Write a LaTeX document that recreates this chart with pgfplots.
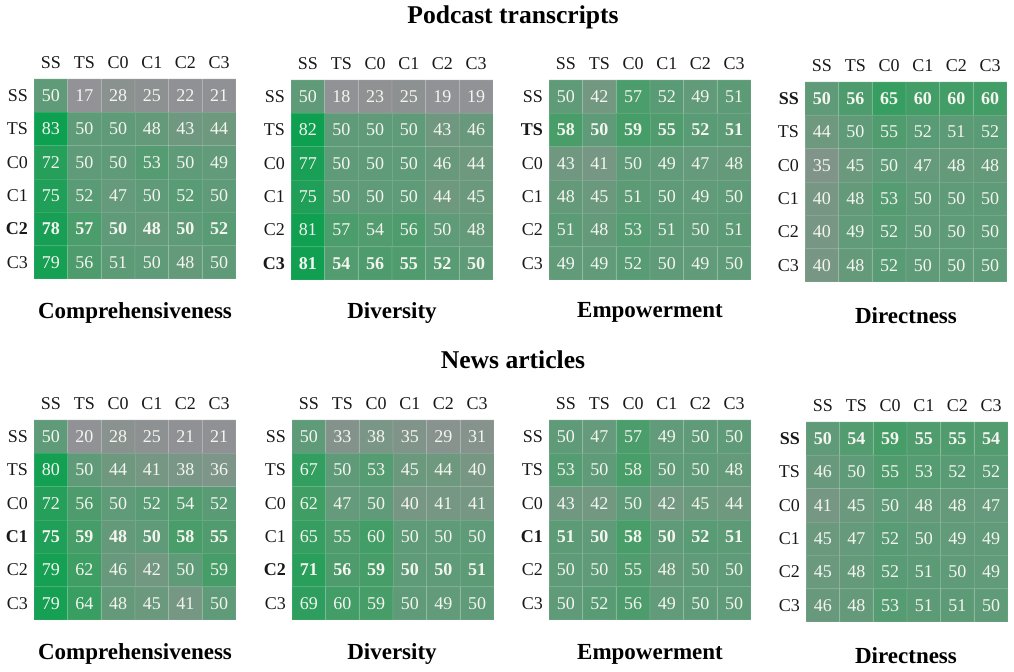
\documentclass[border=0pt]{standalone}
\usepackage{fontspec}
\setmainfont{Liberation Serif}
\usepackage{pgfplots}
\pgfplotsset{compat=1.18}
\definecolor{celltext}{RGB}{245,245,240}
\pgfplotsset{
  colormap={heat}{rgb255(17pt)=(146,146,151) rgb255(25pt)=(142,145,146)
    rgb255(35pt)=(128,148,138) rgb255(42pt)=(115,152,130) rgb255(50pt)=(95,155,120)
    rgb255(58pt)=(72,157,105) rgb255(65pt)=(55,158,97) rgb255(83pt)=(12,160,80)},
  hm/.style={
    scale only axis, width=101pt, height=100pt, anchor=north west,
    xmin=-0.5, xmax=5.5, ymin=-0.5, ymax=5.5,
    xtick={0,...,5}, ytick={0,...,5},
    xticklabels={SS,TS,C0,C1,C2,C3},
    xticklabel pos=upper,
    major tick length=0pt, tick style={draw=none},
    axis line style={draw=none},
    tick label style={font=\fontsize{9}{10}\selectfont, text=black!90},
    xticklabel style={yshift=1.5pt},
    yticklabel style={xshift=0.5pt},
    colormap name=heat, point meta min=17, point meta max=83,
    /pgf/number format/assume math mode=true,
    nodes near coords={\fontsize{9}{10}\selectfont\pgfmathprintnumber[fixed,precision=0]{\pgfplotspointmeta}},
    every node near coord/.append style={text=celltext, anchor=center},
  },
  cells/.style={matrix plot*, mesh/cols=6, point meta=explicit,
    draw=white, draw opacity=0.12, line width=0.4pt},
  boldrow/.style={coordinate style/.condition={y==#1}{font=\bfseries}},
}
\newcommand\subt[1]{\fontsize{11.5}{13}\selectfont\bfseries #1}
\begin{document}
\begin{tikzpicture}
\useasboundingbox (0,0) rectangle (507pt,-336pt);
\node[font=\fontsize{12.8}{14}\selectfont\bfseries] at (256.5pt,-8.5pt) {Podcast transcripts};
\node[font=\fontsize{12.8}{14}\selectfont\bfseries] at (256.5pt,-180pt) {News articles};

% ---------------- Podcast transcripts ----------------
\begin{axis}[hm, at={(17pt,-39.5pt)}, yticklabels={C3,\textbf{C2},C1,C0,TS,SS}]
\addplot[cells, boldrow=1] coordinates {
(0,5)[50] (1,5)[17] (2,5)[28] (3,5)[25] (4,5)[22] (5,5)[21]
(0,4)[83] (1,4)[50] (2,4)[50] (3,4)[48] (4,4)[43] (5,4)[44]
(0,3)[72] (1,3)[50] (2,3)[50] (3,3)[53] (4,3)[50] (5,3)[49]
(0,2)[75] (1,2)[52] (2,2)[47] (3,2)[50] (4,2)[52] (5,2)[50]
(0,1)[78] (1,1)[57] (2,1)[50] (3,1)[48] (4,1)[50] (5,1)[52]
(0,0)[79] (1,0)[56] (2,0)[51] (3,0)[50] (4,0)[48] (5,0)[50]
};
\end{axis}
\begin{axis}[hm, at={(145.5pt,-40pt)}, yticklabels={\textbf{C3},C2,C1,C0,TS,SS}]
\addplot[cells, boldrow=0] coordinates {
(0,5)[50] (1,5)[18] (2,5)[23] (3,5)[25] (4,5)[19] (5,5)[19]
(0,4)[82] (1,4)[50] (2,4)[50] (3,4)[50] (4,4)[43] (5,4)[46]
(0,3)[77] (1,3)[50] (2,3)[50] (3,3)[50] (4,3)[46] (5,3)[44]
(0,2)[75] (1,2)[50] (2,2)[50] (3,2)[50] (4,2)[44] (5,2)[45]
(0,1)[81] (1,1)[57] (2,1)[54] (3,1)[56] (4,1)[50] (5,1)[48]
(0,0)[81] (1,0)[54] (2,0)[56] (3,0)[55] (4,0)[52] (5,0)[50]
};
\end{axis}
\begin{axis}[hm, at={(274.5pt,-40pt)}, yticklabels={C3,C2,C1,C0,\textbf{TS},SS}]
\addplot[cells, boldrow=4] coordinates {
(0,5)[50] (1,5)[42] (2,5)[57] (3,5)[52] (4,5)[49] (5,5)[51]
(0,4)[58] (1,4)[50] (2,4)[59] (3,4)[55] (4,4)[52] (5,4)[51]
(0,3)[43] (1,3)[41] (2,3)[50] (3,3)[49] (4,3)[47] (5,3)[48]
(0,2)[48] (1,2)[45] (2,2)[51] (3,2)[50] (4,2)[49] (5,2)[50]
(0,1)[51] (1,1)[48] (2,1)[53] (3,1)[51] (4,1)[50] (5,1)[51]
(0,0)[49] (1,0)[49] (2,0)[52] (3,0)[50] (4,0)[49] (5,0)[50]
};
\end{axis}
\begin{axis}[hm, at={(402.5pt,-41pt)}, yticklabels={C3,C2,C1,C0,TS,\textbf{SS}}]
\addplot[cells, boldrow=5] coordinates {
(0,5)[50] (1,5)[56] (2,5)[65] (3,5)[60] (4,5)[60] (5,5)[60]
(0,4)[44] (1,4)[50] (2,4)[55] (3,4)[52] (4,4)[51] (5,4)[52]
(0,3)[35] (1,3)[45] (2,3)[50] (3,3)[47] (4,3)[48] (5,3)[48]
(0,2)[40] (1,2)[48] (2,2)[53] (3,2)[50] (4,2)[50] (5,2)[50]
(0,1)[40] (1,1)[49] (2,1)[52] (3,1)[50] (4,1)[50] (5,1)[50]
(0,0)[40] (1,0)[48] (2,0)[52] (3,0)[50] (4,0)[50] (5,0)[50]
};
\end{axis}

% ---------------- News articles ----------------
\begin{axis}[hm, at={(17pt,-210pt)}, yticklabels={C3,C2,\textbf{C1},C0,TS,SS}]
\addplot[cells, boldrow=2] coordinates {
(0,5)[50] (1,5)[20] (2,5)[28] (3,5)[25] (4,5)[21] (5,5)[21]
(0,4)[80] (1,4)[50] (2,4)[44] (3,4)[41] (4,4)[38] (5,4)[36]
(0,3)[72] (1,3)[56] (2,3)[50] (3,3)[52] (4,3)[54] (5,3)[52]
(0,2)[75] (1,2)[59] (2,2)[48] (3,2)[50] (4,2)[58] (5,2)[55]
(0,1)[79] (1,1)[62] (2,1)[46] (3,1)[42] (4,1)[50] (5,1)[59]
(0,0)[79] (1,0)[64] (2,0)[48] (3,0)[45] (4,0)[41] (5,0)[50]
};
\end{axis}
\begin{axis}[hm, at={(146pt,-210pt)}, yticklabels={C3,\textbf{C2},C1,C0,TS,SS}]
\addplot[cells, boldrow=1] coordinates {
(0,5)[50] (1,5)[33] (2,5)[38] (3,5)[35] (4,5)[29] (5,5)[31]
(0,4)[67] (1,4)[50] (2,4)[53] (3,4)[45] (4,4)[44] (5,4)[40]
(0,3)[62] (1,3)[47] (2,3)[50] (3,3)[40] (4,3)[41] (5,3)[41]
(0,2)[65] (1,2)[55] (2,2)[60] (3,2)[50] (4,2)[50] (5,2)[50]
(0,1)[71] (1,1)[56] (2,1)[59] (3,1)[50] (4,1)[50] (5,1)[51]
(0,0)[69] (1,0)[60] (2,0)[59] (3,0)[50] (4,0)[49] (5,0)[50]
};
\end{axis}
\begin{axis}[hm, at={(274.5pt,-210pt)}, yticklabels={C3,C2,\textbf{C1},C0,TS,SS}]
\addplot[cells, boldrow=2] coordinates {
(0,5)[50] (1,5)[47] (2,5)[57] (3,5)[49] (4,5)[50] (5,5)[50]
(0,4)[53] (1,4)[50] (2,4)[58] (3,4)[50] (4,4)[50] (5,4)[48]
(0,3)[43] (1,3)[42] (2,3)[50] (3,3)[42] (4,3)[45] (5,3)[44]
(0,2)[51] (1,2)[50] (2,2)[58] (3,2)[50] (4,2)[52] (5,2)[51]
(0,1)[50] (1,1)[50] (2,1)[55] (3,1)[48] (4,1)[50] (5,1)[50]
(0,0)[50] (1,0)[52] (2,0)[56] (3,0)[49] (4,0)[50] (5,0)[50]
};
\end{axis}
\begin{axis}[hm, at={(403pt,-211pt)}, yticklabels={C3,C2,C1,C0,TS,\textbf{SS}}]
\addplot[cells, boldrow=5] coordinates {
(0,5)[50] (1,5)[54] (2,5)[59] (3,5)[55] (4,5)[55] (5,5)[54]
(0,4)[46] (1,4)[50] (2,4)[55] (3,4)[53] (4,4)[52] (5,4)[52]
(0,3)[41] (1,3)[45] (2,3)[50] (3,3)[48] (4,3)[48] (5,3)[47]
(0,2)[45] (1,2)[47] (2,2)[52] (3,2)[50] (4,2)[49] (5,2)[49]
(0,1)[45] (1,1)[48] (2,1)[52] (3,1)[51] (4,1)[50] (5,1)[49]
(0,0)[46] (1,0)[48] (2,0)[53] (3,0)[51] (4,0)[51] (5,0)[50]
};
\end{axis}

% panel titles
\node at (67.5pt,-156.5pt) {\subt{Comprehensiveness}};
\node at (196pt,-156.5pt) {\subt{Diversity}};
\node at (325pt,-156pt) {\subt{Empowerment}};
\node at (453pt,-158pt) {\subt{Directness}};
\node at (67.5pt,-327pt) {\subt{Comprehensiveness}};
\node at (196pt,-327pt) {\subt{Diversity}};
\node at (325pt,-327pt) {\subt{Empowerment}};
\node at (453pt,-328pt) {\subt{Directness}};
\end{tikzpicture}
\end{document}
